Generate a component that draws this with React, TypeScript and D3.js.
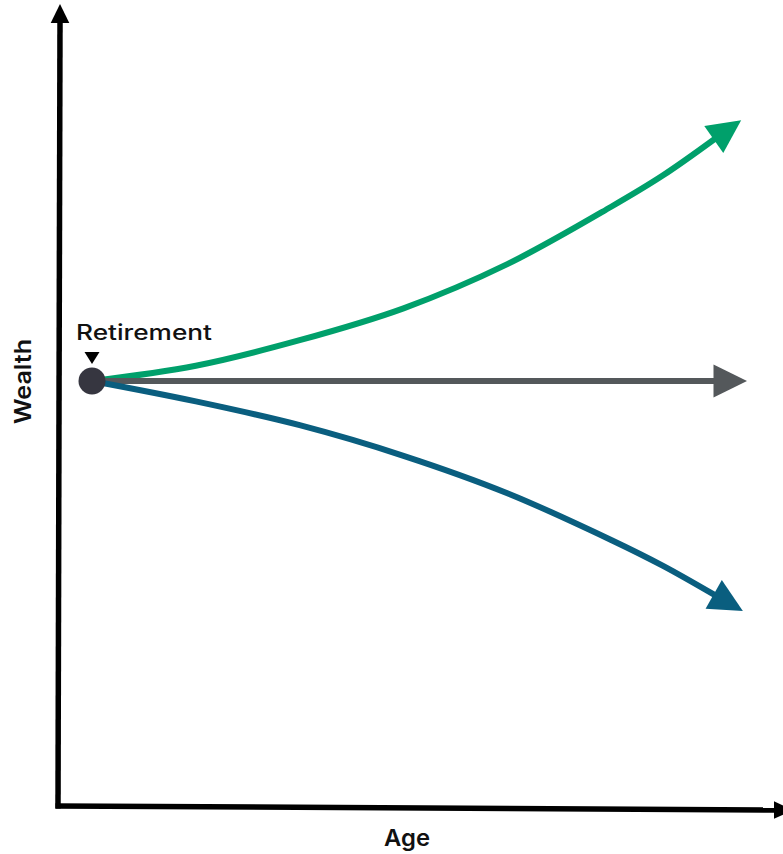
import React from "react";
import * as d3 from "d3";

// Conceptual data: age (years) vs. wealth index (100 = wealth at retirement)
const ages = [65, 70, 75, 80, 85, 90, 92.5, 95];
const growthWealth = [100, 103.6, 109.6, 117.1, 127.5, 141.0, 148.4, 157.0];
const steadyWealth = [100, 100, 100, 100, 100, 100, 100, 100];
const declineWealth = [100, 95.2, 89.6, 82.4, 73.6, 62.6, 56.5, 49.6];
const retirementAge = 65;
const retirementWealth = 100;

const series = [
  { name: "growth", values: growthWealth, color: "#00A06B" },
  { name: "steady", values: steadyWealth, color: "#54585B" },
  { name: "decline", values: declineWealth, color: "#0A5E7F" },
];

const W = 783;
const H = 854;
// axis layout
const axisLeft = 58;
const axisBottom = 806;
const axisTop = 4;
const axisRight = 793;

const FONT = "Inter, 'Noto Sans', sans-serif";

function arrowHead(
  prev: [number, number],
  end: [number, number],
  len: number,
  wid: number
): string {
  const dx = end[0] - prev[0];
  const dy = end[1] - prev[1];
  const n = Math.hypot(dx, dy) || 1;
  const ux = dx / n;
  const uy = dy / n;
  const bx = end[0] - ux * 1.5;
  const by = end[1] - uy * 1.5;
  const tip: [number, number] = [end[0] + ux * len, end[1] + uy * len];
  const px = -uy;
  const py = ux;
  const a: [number, number] = [bx + (px * wid) / 2, by + (py * wid) / 2];
  const b: [number, number] = [bx - (px * wid) / 2, by - (py * wid) / 2];
  return `M${tip[0]},${tip[1]}L${a[0]},${a[1]}L${b[0]},${b[1]}Z`;
}

export default function App() {
  const x = d3.scaleLinear().domain([65, 95]).range([92, 715]);
  const y = d3.scaleLinear().domain([0, 100]).range([806, 381]);

  const line = d3
    .line<number>()
    .x((_, i) => x(ages[i]))
    .y((v) => y(v))
    .curve(d3.curveCatmullRom.alpha(0.5));

  const dotX = x(retirementAge);
  const dotY = y(retirementWealth);

  return (
    <svg
      width={W}
      height={H}
      style={{ position: "absolute", left: 0, top: 0, background: "#fff" }}
    >
      {/* axes */}
      <line
        x1={axisLeft}
        y1={axisBottom + 2.5}
        x2={axisLeft + 2}
        y2={22}
        stroke="#000"
        strokeWidth={5.5}
      />
      <path
        d={`M${axisLeft + 2},${axisTop}L${axisLeft + 2 + 9.3},${23}L${axisLeft + 2 - 9.3},${23}Z`}
        fill="#000"
      />
      <line
        x1={axisLeft - 2.5}
        y1={axisBottom}
        x2={775}
        y2={axisBottom + 4}
        stroke="#000"
        strokeWidth={5.5}
      />
      <path
        d={`M${axisRight},${axisBottom + 4.3}L774,${axisBottom + 4 - 8.7}L774,${axisBottom + 4 + 8.7}Z`}
        fill="#000"
      />

      {/* series lines */}
      {series.map((s) => {
        const n = s.values.length;
        const end: [number, number] = [x(ages[n - 1]), y(s.values[n - 1])];
        const prev: [number, number] = [x(ages[n - 2]), y(s.values[n - 2])];
        return (
          <g key={s.name}>
            <path
              d={line(s.values) || ""}
              fill="none"
              stroke={s.color}
              strokeWidth={6}
              strokeLinecap="butt"
            />
            <path d={arrowHead(prev, end, 32, 33)} fill={s.color} />
          </g>
        );
      })}

      {/* retirement dot */}
      <circle cx={dotX} cy={dotY} r={13.5} fill="#363640" />
      <path
        d={`M${dotX - 7.5},${dotY - 29}L${dotX + 7.5},${dotY - 29}L${dotX},${dotY - 17}Z`}
        fill="#000"
      />
      <text
        x={76}
        y={340}
        fontFamily={FONT}
        fontSize={21}
        fontWeight={500}
        fill="#111"
        textLength={136}
        lengthAdjust="spacingAndGlyphs"
      >
        Retirement
      </text>

      {/* axis labels */}
      <text
        transform={`translate(31,382) rotate(-90)`}
        x={-42}
        fontFamily={FONT}
        fontSize={23}
        fontWeight={600}
        fill="#111"
        textLength={85}
        lengthAdjust="spacingAndGlyphs"
      >
        Wealth
      </text>
      <text
        x={384}
        y={846}
        fontFamily={FONT}
        fontSize={23}
        fontWeight={600}
        fill="#111"
        textLength={46}
        lengthAdjust="spacingAndGlyphs"
      >
        Age
      </text>
    </svg>
  );
}
